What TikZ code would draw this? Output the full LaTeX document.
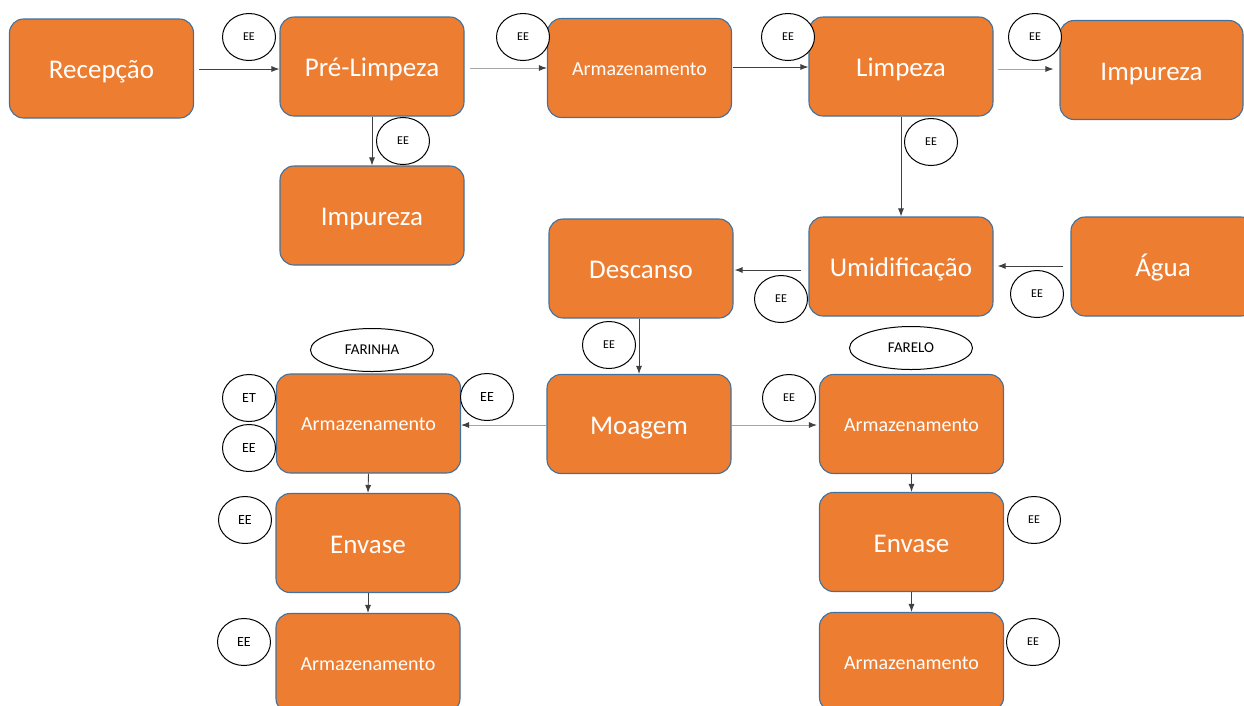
\documentclass[tikz,border=0pt]{standalone}
\usepackage{fontspec}
\setmainfont{Carlito}
\usetikzlibrary{shapes.geometric,arrows.meta}
\definecolor{boxfill}{HTML}{ED7D31}
\definecolor{boxline}{HTML}{41719C}
\definecolor{arrowc}{HTML}{404040}
\definecolor{arrowl}{HTML}{A6A6A6}
\tikzset{
 proc/.style={rectangle, rounded corners=14pt, fill=boxfill, draw=boxline, line width=1.1pt,
   minimum width=184pt, minimum height=99pt, text=white, inner sep=0pt,
   text height=27pt, text depth=7pt,
   font=\fontsize{27}{30}\selectfont},
 procs/.style={proc, text height=20pt, text depth=5.4pt, font=\fontsize{20}{24}\selectfont},
 ee/.style={ellipse, draw=black, line width=1pt, fill=white, minimum width=53pt,
   minimum height=47pt, inner sep=0pt, font=\fontsize{12}{14}\selectfont},
 eeb/.style={ee, font=\fontsize{14}{16}\selectfont},
 tag/.style={ellipse, draw=black, line width=1pt, fill=white, minimum width=123pt,
   minimum height=43pt, inner sep=0pt, font=\fontsize{15}{17}\selectfont},
 flow/.style={draw=arrowc, line width=0.9pt, -{Latex[length=8pt,width=6pt,color=arrowc]}},
 flowl/.style={flow, draw=arrowl},
}
\begin{document}
\begin{tikzpicture}[x=1pt,y=-1pt]
\useasboundingbox (0,0) rectangle (1244,705);
\clip (0,0) rectangle (1244,705);
\fill[white] (0,0) rectangle (1244,705);
% process boxes
\node[proc]  (rec)   at (101.5,68.5) {Recepção};
\node[proc]  (pre)   at (372,66.5)   {Pré-Limpeza};
\node[proc]  (imp1)  at (372,215.5)  {Impureza};
\node[procs] (arm1)  at (639.5,68)   {Armazenamento};
\node[proc]  (limp)  at (901,66.5)   {Limpeza};
\node[proc, minimum width=183pt] (imp2) at (1151.5,70) {Impureza};
\node[proc]  (umid)  at (901,266.5)  {Umidificação};
\node[proc]  (agua)  at (1163,266.5) {Água};
\node[proc]  (desc)  at (641,268.5)  {Descanso};
\node[proc]  (moag)  at (639,424)    {Moagem};
\node[procs] (armF)  at (368.5,423.5){Armazenamento};
\node[proc]  (envF)  at (368,543)    {Envase};
\node[procs] (armF2) at (368,663)    {Armazenamento};
\node[procs] (armB)  at (911.5,424)  {Armazenamento};
\node[proc]  (envB)  at (911.5,542)  {Envase};
\node[procs] (armB2) at (911.5,662)  {Armazenamento};
% connectors
\draw[flow, shorten <=5pt] ([yshift=-0.5pt]rec.east) -- ([yshift=-0.5pt]pre.west |- rec.east);
\draw[flowl, shorten <=5pt] ([yshift=-1.5pt]pre.east) -- ([yshift=-1.5pt]arm1.west |- pre.east);
\draw[flow, shorten <=1pt] ([yshift=1pt]arm1.east) -- ([yshift=1pt]limp.west |- arm1.east);
\draw[flowl, shorten <=4pt, shorten >=6pt] ([yshift=-2.5pt]limp.east) -- ([yshift=-2.5pt]imp2.west |- limp.east);
\draw[flow] (pre.south) -- (imp1.north);
\draw[flow] (limp.south) -- (umid.north);
\draw[flow, shorten <=7pt, shorten >=1pt] ([yshift=-3.5pt]umid.west) -- ([yshift=-3.5pt]desc.east |- umid.west);
\draw[flow, shorten <=7pt, shorten >=4pt] ([yshift=0.5pt]agua.west) -- ([yshift=0.5pt]umid.east |- agua.west);
\draw[flow] (moag.north |- desc.south) -- (moag.north);
\draw[flowl] ([yshift=-1pt]moag.west) -- ([yshift=-1pt]armF.east |- moag.west);
\draw[flowl, shorten >=2pt] ([yshift=-1pt]moag.east) -- ([yshift=-1pt]armB.west |- moag.east);
\draw[flow] (armF.south) -- (envF.north);
\draw[flow] (envF.south) -- (armF2.north);
\draw[flow] (armB.south) -- (envB.north);
\draw[flow] (envB.south) -- (armB2.north);
% EE / ET markers
\node[ee]  (e1)  at (249,37)   {EE};
\node[ee]  (e2)  at (403,141)  {EE};
\node[ee]  (e3)  at (523,37)   {EE};
\node[ee]  (e4)  at (788,37)   {EE};
\node[ee]  (e5)  at (1035,37)  {EE};
\node[ee]  (e6)  at (931,142)  {EE};
\node[ee]  (e7)  at (781,299)  {EE};
\node[ee]  (e8)  at (1037,294) {EE};
\node[ee]  (e9)  at (609,345)  {EE};
\node[ee]  (e10) at (789,398)  {EE};
\node[eeb] (e11) at (249,398)  {ET};
\node[eeb] (e12) at (249,448)  {EE};
\node[eeb] (e13) at (487,397)  {EE};
\node[eeb] (e14) at (245,520)  {EE};
\node[eeb] (e15) at (244,642)  {EE};
\node[ee]  (e16) at (1034,520) {EE};
\node[ee]  (e17) at (1033,642) {EE};
% product tags
\node[tag] (farinha) at (372,350) {FARINHA};
\node[tag] (farelo)  at (911,348) {FARELO};
\end{tikzpicture}
\end{document}
